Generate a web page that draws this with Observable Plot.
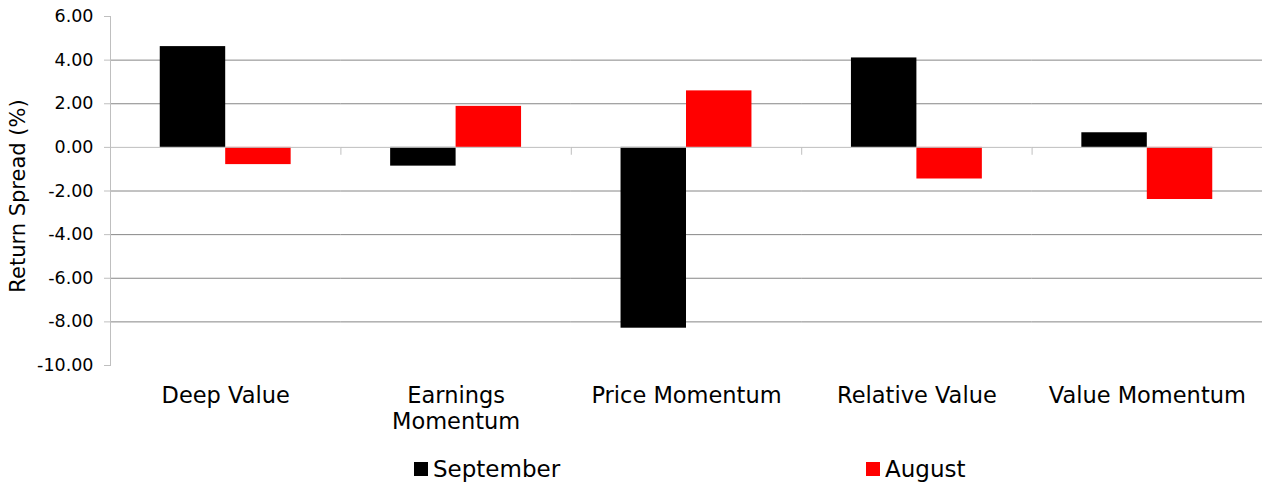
<!DOCTYPE html>
<html>
<head>
<meta charset="utf-8">
<script src="https://cdn.jsdelivr.net/npm/d3@7"></script>
<script src="https://cdn.jsdelivr.net/npm/@observablehq/plot@0.6"></script>
<style>
  body { margin: 0; background: #fff; font-family: "DejaVu Sans", Verdana, sans-serif; }
  #chart { width: 1263px; }
  .legend { position: relative; width: 1263px; height: 46px; }
  .sw { position: absolute; width: 14px; height: 14px; top: 22px; }
  .lt { position: absolute; top: 18px; font-size: 23px; line-height: 23px; color: #000; white-space: nowrap; }
</style>
</head>
<body>
<div id="chart"></div>
<script>
const categories = ["Deep Value", "Earnings Momentum", "Price Momentum", "Relative Value", "Value Momentum"];
const tickLabels = ["Deep Value", "Earnings\nMomentum", "Price Momentum", "Relative Value", "Value Momentum"];
const series = ["September", "August"];
const september = [4.62, -0.86, -8.29, 4.10, 0.67];
const august = [-0.79, 1.88, 2.59, -1.45, -2.39];
const colors = ["#000000", "#ff0000"];
const yTicks = [-10, -8, -6, -4, -2, 0, 2, 4, 6];
const gridValues = [-8, -6, -4, -2, 2, 4];
const yLabel = "Return Spread (%)";

const rows = categories.flatMap((c, i) => [
  {category: c, series: series[0], value: september[i]},
  {category: c, series: series[1], value: august[i]}
]);

const tickShape = {draw(context, l) { context.moveTo(0, 0); context.lineTo(0, -l); }};

const plot = Plot.plot({
  width: 1263,
  height: 440,
  marginTop: 16,
  marginBottom: 75,
  marginLeft: 110,
  marginRight: 1,
  style: {fontFamily: "'DejaVu Sans', Verdana, sans-serif", background: "#fff", color: "#000"},
  fx: {domain: categories, padding: 0, round: false, label: null},
  x: {domain: series, paddingInner: 0, paddingOuter: 0.76, round: false, axis: null},
  y: {domain: [-10, 6]},
  color: {domain: series, range: colors},
  marks: [
    Plot.ruleY(gridValues, {stroke: "#868686", strokeWidth: 1}),
    Plot.barY(rows, {fx: "category", x: "series", y: "value", fill: "series"}),
    Plot.ruleY([0], {stroke: "#bfbfbf", strokeWidth: 1}),
    Plot.vector([0], {y: d => d, frameAnchor: "left", length: 7, rotate: 180, anchor: "start", stroke: "#bfbfbf", strokeWidth: 1, shape: tickShape}),
    Plot.frame({anchor: "left", facetAnchor: "left", stroke: "#bfbfbf"}),
    Plot.axisY({ticks: yTicks, tickFormat: d => d.toFixed(2), tickSize: 6, tickPadding: 11, stroke: "#bfbfbf", fill: "#000", fontSize: 17.5, label: null}),
    Plot.text([yLabel], {frameAnchor: "left", facetAnchor: "left", rotate: -90, dx: -92, dy: 5, fontSize: 21, fill: "#000", textAnchor: "middle"}),
    Plot.axisFx({anchor: "bottom", tickSize: 0, tickPadding: 19, fontSize: 22.5, lineHeight: 1.16, fill: "#000", tickFormat: d => tickLabels[categories.indexOf(d)], label: null})
  ]
});
document.getElementById("chart").append(plot);

const legend = document.createElement("div");
legend.className = "legend";
const legendLeft = [414, 866];
series.forEach((s, i) => {
  const sw = document.createElement("div");
  sw.className = "sw";
  sw.style.left = legendLeft[i] + "px";
  sw.style.background = colors[i];
  const t = document.createElement("div");
  t.className = "lt";
  t.style.left = (legendLeft[i] + 19) + "px";
  t.textContent = s;
  legend.append(sw, t);
});
document.getElementById("chart").append(legend);
</script>
</body>
</html>
